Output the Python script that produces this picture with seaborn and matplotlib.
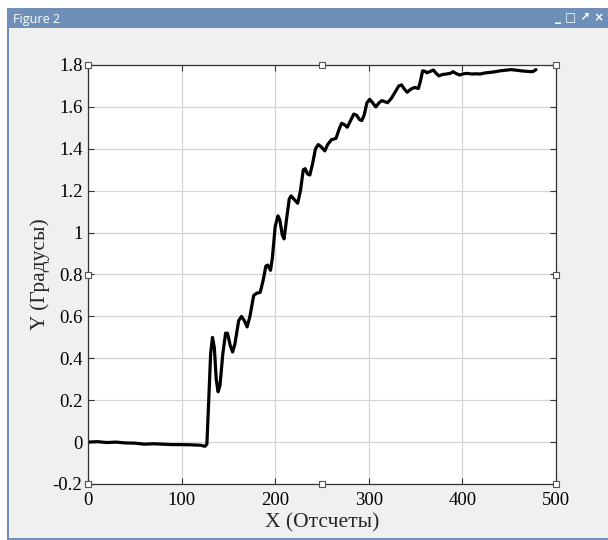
import matplotlib
matplotlib.use("Agg")
import matplotlib.pyplot as plt
import seaborn as sns
import numpy as np
import pandas as pd
from matplotlib.patches import Rectangle
from matplotlib.ticker import FuncFormatter

# ---- data ----
x_samples = [0, 10, 20, 30, 40, 50, 60, 70, 80, 90, 100, 110, 120, 125, 127,
             129, 131, 133, 135, 137, 139, 141, 144, 147, 149, 152, 154.5, 157, 161,
             164, 167, 170, 173, 177, 180, 184, 187, 190, 192, 195, 197, 200, 203,
             205, 207.5, 209.5, 212, 215, 217, 220, 224, 227, 230, 232, 234.5, 237,
             240, 243, 246, 249, 253, 256, 260, 265, 268, 271, 274, 277, 280, 284,
             287, 290, 292.5, 295, 298, 301, 304, 307.5, 311, 314, 317, 320, 324,
             328, 332, 335, 338, 341, 345, 349, 353, 355, 357.5, 360, 362, 366, 369,
             372, 375, 379, 383, 387, 390, 393, 397, 401, 405, 410, 415, 419, 424,
             430, 435, 440, 446, 452, 458, 463, 468, 474, 476, 478.6]
y_degrees = [0.0, 0.002, -0.002, 0.0, -0.004, -0.005, -0.01, -0.008, -0.01, -0.012,
             -0.012, -0.013, -0.015, -0.02, -0.01,
             0.2, 0.42, 0.50, 0.45, 0.30, 0.24, 0.27, 0.42, 0.52, 0.52, 0.46, 0.43,
             0.47, 0.58, 0.60, 0.58, 0.55, 0.60, 0.70, 0.71, 0.715, 0.77, 0.84, 0.845,
             0.82, 0.88, 1.03, 1.08, 1.06, 0.99, 0.97, 1.06, 1.16, 1.175, 1.16, 1.14,
             1.20, 1.30, 1.305, 1.28, 1.275, 1.33, 1.40, 1.42, 1.41, 1.39, 1.42, 1.443,
             1.45, 1.49, 1.522, 1.515, 1.503, 1.53, 1.566, 1.56, 1.54, 1.535, 1.56,
             1.62, 1.636, 1.62, 1.60, 1.62, 1.63, 1.625, 1.62, 1.64, 1.67, 1.70, 1.705,
             1.685, 1.67, 1.685, 1.693, 1.688, 1.72, 1.772, 1.77, 1.763, 1.77, 1.776,
             1.76, 1.748, 1.755, 1.757, 1.76, 1.768, 1.76, 1.752, 1.758, 1.76, 1.757,
             1.758, 1.757, 1.762, 1.765, 1.768, 1.772, 1.775, 1.778, 1.775, 1.772,
             1.77, 1.768, 1.77, 1.778]
x_ticks = [0, 100, 200, 300, 400, 500]
y_ticks = [-0.2, 0, 0.2, 0.4, 0.6, 0.8, 1.0, 1.2, 1.4, 1.6, 1.8]
x_label = "X (Отсчеты)"
y_label = "Y (Градусы)"
window_title = "Figure 2"

df = pd.DataFrame({"x": x_samples, "y": y_degrees})

sns.set_style("white")
plt.rcParams["font.family"] = ["Liberation Serif", "DejaVu Serif"]

W, H = 608, 540
fig = plt.figure(figsize=(W / 100, H / 100), dpi=100, facecolor="white")

def px_rect(x0, y0, x1, y1, **kw):
    fig.patches.append(Rectangle((x0 / W, 1 - y1 / H), (x1 - x0) / W, (y1 - y0) / H,
                                 transform=fig.transFigure, figure=fig, zorder=-5, **kw))

# window chrome
px_rect(7, 8, 608, 540, facecolor="#6E8FB8", edgecolor="none")
px_rect(9, 28, 608, 538, facecolor="#F0F0F0", edgecolor="none")
fig.text(13 / W, 1 - 19 / H, window_title, color="white", fontsize=9,
         family="Open Sans", va="center", ha="left")
fig.text(604 / W, 1 - 18 / H, "_ \u25A1 \u2197 \u00D7", color="white", fontsize=8.5,
         family="DejaVu Sans", va="center", ha="right", fontweight="bold")

ax = fig.add_axes([88 / W, 1 - 484 / H, (556 - 88) / W, (484 - 65) / H])
ax.set_zorder(2)
ax.set_facecolor("white")

sns.lineplot(data=df, x="x", y="y", sort=False, color="black", linewidth=2.3,
             ax=ax, legend=False)

ax.set_xlim(0, 500)
ax.set_ylim(-0.2, 1.8)
ax.set_xticks(x_ticks)
ax.set_yticks(y_ticks)
ax.yaxis.set_major_formatter(FuncFormatter(lambda v, p: "%g" % round(v, 2)))
ax.xaxis.set_major_formatter(FuncFormatter(lambda v, p: "%g" % v))
ax.grid(True, color="#D4D4D4", linewidth=0.9)
ax.set_axisbelow(True)
ax.tick_params(direction="in", length=4, width=0.8, colors="#333333",
               labelcolor="black", labelsize=13.5, top=True, right=True,
               left=True, bottom=True, pad=4)
ax.tick_params(axis="x", pad=6)
for s in ax.spines.values():
    s.set_color("#333333")
    s.set_linewidth(0.9)
ax.set_xlabel(x_label, fontsize=15.5, labelpad=3)
ax.set_ylabel(y_label, fontsize=15.5, labelpad=2)

# selection handles (edit-mode squares)
hx = [0, 0.5, 1, 0, 1, 0, 0.5, 1]
hy = [1, 1, 1, 0.5, 0.5, 0, 0, 0]
ax.plot(hx, hy, ls="none", marker="s", markersize=5, markerfacecolor="white",
        markeredgecolor="#555555", markeredgewidth=0.8, transform=ax.transAxes,
        clip_on=False, zorder=10)

fig.savefig("out.png", dpi=100, facecolor=fig.get_facecolor())
